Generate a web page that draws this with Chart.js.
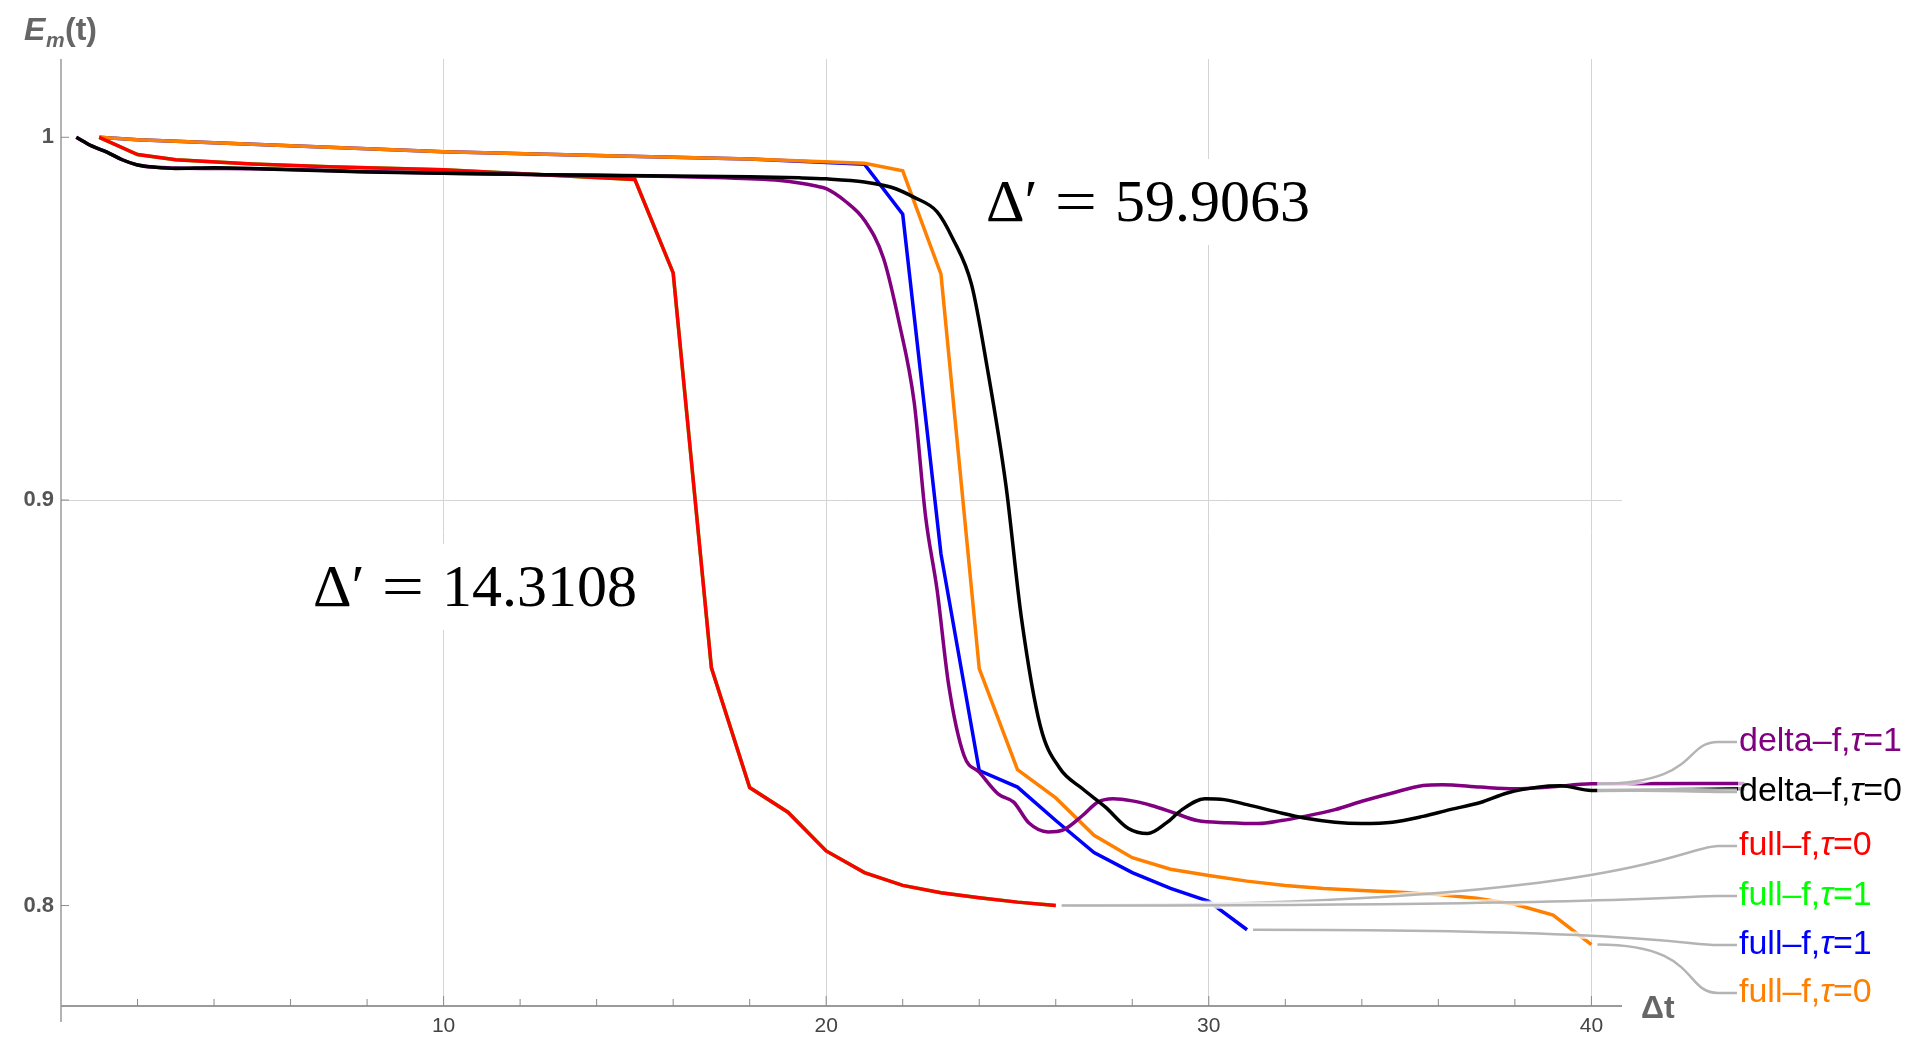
<!DOCTYPE html>
<html>
<head>
<meta charset="utf-8">
<title>E_m(t) vs Δt</title>
<script src="https://cdn.jsdelivr.net/npm/chart.js@4.4.1/dist/chart.umd.min.js"></script>
<style>
    html, body { margin: 0; padding: 0; background: #fff; overflow: hidden; }
    canvas { display: block; }
</style>
</head>
<body>
<canvas id="emChart" width="1920" height="1040"></canvas>
<script>
// values (log y axis)
const deltaTau1X = [0.4, 0.8, 1.2, 1.6, 2, 3, 5, 8, 10, 14, 16, 17, 18, 18.8, 19.3, 19.7, 20, 20.5, 21, 21.5, 21.9, 22.3, 22.6, 22.9, 23.2, 23.6, 24, 24.5, 24.9, 25.3, 25.8, 26.2, 26.7, 27.1, 27.5, 28, 28.5, 29.1, 29.7, 30.5, 31.3, 31.9, 32.5, 33.3, 34, 34.8, 35.6, 36.1, 37.1, 38, 38.9, 40, 44, 49];
const deltaTau1Y = [1.000, 0.9975, 0.9957, 0.9935, 0.9920, 0.9911, 0.9909, 0.9901, 0.9896, 0.9890, 0.9887, 0.9884, 0.9880, 0.9875, 0.9868, 0.9860, 0.9852, 0.9816, 0.9762, 0.9654, 0.9479, 0.9259, 0.8955, 0.8767, 0.8530, 0.8357, 0.8316, 0.8263, 0.8244, 0.8194, 0.8173, 0.8178, 0.8212, 0.8244, 0.8252, 0.8247, 0.8236, 0.8218, 0.8200, 0.8195, 0.8193, 0.8200, 0.8210, 0.8226, 0.8246, 0.8266, 0.8284, 0.8286, 0.8280, 0.8276, 0.8280, 0.8288, 0.8289, 0.8298];

const deltaTau0X = [0.4, 0.8, 1.2, 1.6, 2, 2.5, 3, 4, 5, 6, 8, 10, 12, 14, 16, 18, 19.3, 20, 21, 21.7, 22.3, 22.9, 23.3, 23.8, 24.2, 24.7, 25.1, 25.6, 26.1, 26.7, 27.3, 27.9, 28.4, 28.9, 29.3, 29.9, 30.4, 31, 31.8, 32.5, 33.3, 34, 34.8, 35.6, 36.3, 37.1, 37.8, 38.6, 39.2, 40, 44, 49];
const deltaTau0Y = [1.000, 0.9975, 0.9957, 0.9935, 0.9920, 0.9913, 0.9910, 0.9912, 0.9910, 0.9906, 0.9900, 0.9896, 0.9893, 0.9890, 0.9888, 0.9886, 0.9883, 0.9880, 0.9871, 0.9856, 0.9827, 0.9786, 0.9712, 0.9581, 0.9358, 0.9037, 0.8699, 0.8427, 0.8326, 0.8276, 0.8232, 0.8181, 0.8169, 0.8195, 0.8226, 0.8252, 0.8250, 0.8238, 0.8220, 0.8206, 0.8196, 0.8193, 0.8196, 0.8210, 0.8226, 0.8243, 0.8266, 0.8280, 0.8283, 0.8272, 0.8276, 0.8278];

const fullTau0aX = [1, 2, 3, 5, 7, 10, 15, 16, 17, 18, 19, 20, 21, 22, 23, 24, 25, 26];
const fullTau0aY = [1.000, 0.9950, 0.9935, 0.9923, 0.9915, 0.9906, 0.9878, 0.9614, 0.8572, 0.8279, 0.8220, 0.8128, 0.8077, 0.8047, 0.8030, 0.8018, 0.8008, 0.8000];

// green run sits exactly under the red one
const fullTau1aX = [1, 2, 3, 5, 7, 10, 15, 16, 17, 18, 19, 20, 21, 22, 23, 24, 25, 26];
const fullTau1aY = [1.000, 0.9950, 0.9935, 0.9923, 0.9915, 0.9906, 0.9878, 0.9614, 0.8572, 0.8279, 0.8220, 0.8128, 0.8077, 0.8047, 0.8030, 0.8018, 0.8008, 0.8000];

const fullTau1bX = [1, 2, 5, 10, 14, 18, 21, 22, 23, 24, 25, 26, 27, 28, 29, 30, 31];
const fullTau1bY = [1.000, 0.9993, 0.9980, 0.9958, 0.9947, 0.9937, 0.9922, 0.9779, 0.8860, 0.8320, 0.8280, 0.8200, 0.8124, 0.8077, 0.8040, 0.8010, 0.7944];

const fullTau0bX = [1, 2, 5, 10, 14, 18, 21, 22, 23, 24, 25, 26, 27, 28, 29, 30, 31, 32, 33, 34, 35, 36, 37, 38, 39, 40];
const fullTau0bY = [1.000, 0.9993, 0.9980, 0.9958, 0.9947, 0.9937, 0.9925, 0.9903, 0.9610, 0.8570, 0.8322, 0.8254, 0.8165, 0.8112, 0.8085, 0.8070, 0.8057, 0.8047, 0.8040, 0.8035, 0.8031, 0.8026, 0.8017, 0.8003, 0.7978, 0.7910];

const seriesNames = ['delta–f,τ=1', 'delta–f,τ=0', 'full–f,τ=0', 'full–f,τ=1', 'full–f,τ=1', 'full–f,τ=0'];
const seriesColors = ['#800080', '#000000', '#ff0000', '#00ff00', '#0000ff', '#ff8000'];
const calloutX = [40, 40, 26, 26, 31, 40];

const xTickValues = [10, 20, 30, 40];
const yTickValues = [0.8, 0.9, 1];
const deltaPrimeValues = ['59.9063', '14.3108'];

const seriesX = [deltaTau1X, deltaTau0X, fullTau0aX, fullTau1aX, fullTau1bX, fullTau0bX];
const seriesY = [deltaTau1Y, deltaTau0Y, fullTau0aY, fullTau1aY, fullTau1bY, fullTau0bY];

const SANS = "'Liberation Sans', Arial, sans-serif";
const SERIF = "'Liberation Serif', 'Times New Roman', serif";

// layout of the callouts on the right and the two annotations
const calloutLabelY = [742, 792, 846, 896, 945, 993];
const drawOrder = [1, 0, 2, 5, 4, 3];
const smoothSeries = [true, true, false, false, false, false];
const annotationPos = [{ x: 986, y: 221 }, { x: 313, y: 606 }];

function strokeLine(ctx, x1, y1, x2, y2) {
    ctx.beginPath();
    ctx.moveTo(x1, y1);
    ctx.lineTo(x2, y2);
    ctx.stroke();
}

function drawLeader(ctx, sx, sy, ly) {
    const ex = 1718;
    const path = () => {
        ctx.beginPath();
        ctx.moveTo(sx, sy);
        ctx.bezierCurveTo(sx + (ex - sx) * 0.85, sy, ex - 35, ly, ex, ly);
        ctx.lineTo(1737, ly);
    };
    ctx.strokeStyle = 'rgba(255,255,255,0.7)';
    ctx.lineWidth = 7;
    path();
    ctx.stroke();
    ctx.strokeStyle = '#b4b4b4';
    ctx.lineWidth = 2.5;
    path();
    ctx.stroke();
}

function drawCalloutLabel(ctx, text, x, y, color) {
    const [head, tail] = text.split('τ');
    ctx.font = `34px ${SANS}`;
    const w1 = ctx.measureText(head).width;
    const w3 = ctx.measureText(tail).width;
    ctx.font = `italic 34px ${SANS}`;
    const w2 = ctx.measureText('τ').width;

    ctx.fillStyle = 'rgba(255,255,255,0.65)';
    ctx.fillRect(x - 1, y - 19, w1 + w2 + w3 + 2, 38);

    ctx.fillStyle = color;
    ctx.textBaseline = 'middle';
    ctx.textAlign = 'left';
    ctx.font = `34px ${SANS}`;
    ctx.fillText(head, x, y);
    ctx.font = `italic 34px ${SANS}`;
    ctx.fillText('τ', x + w1, y);
    ctx.font = `34px ${SANS}`;
    ctx.fillText(tail, x + w1 + w2, y);
}

function drawDeltaPrime(ctx, x0, baseline, value) {
    ctx.fillStyle = '#fff';
    ctx.fillRect(x0 - 6, baseline - 62, 340, 86);
    ctx.fillStyle = '#000';
    ctx.textBaseline = 'alphabetic';
    ctx.textAlign = 'left';
    ctx.font = `60px ${SERIF}`;
    ctx.fillText('Δ′', x0, baseline);
    ctx.save();
    ctx.translate(x0 + 90, baseline);
    ctx.scale(1.25, 1);
    ctx.textAlign = 'center';
    ctx.fillText('=', 0, 0);
    ctx.restore();
    ctx.fillText(value, x0 + 129, baseline);
}

const mathematicaStyle = {
    id: 'mathematicaStyle',
    beforeDatasetsDraw(chart) {
        const { ctx, chartArea: area, scales: { x: xScale, y: yScale } } = chart;
        ctx.save();
        ctx.strokeStyle = '#9a9a9a';
        ctx.lineWidth = 2;
        strokeLine(ctx, area.left, area.bottom, area.right, area.bottom);
        ctx.lineWidth = 1.5;
        strokeLine(ctx, area.left, area.top, area.left, area.bottom + 16);

        ctx.strokeStyle = '#8a8a8a';
        ctx.lineWidth = 1;
        for (let v = 2; v <= 40; v += 2) {
            const px = xScale.getPixelForValue(v);
            strokeLine(ctx, px, area.bottom, px, area.bottom - (v % 10 === 0 ? 10 : 7));
        }
        yTickValues.forEach(v => {
            const py = yScale.getPixelForValue(v);
            strokeLine(ctx, area.left, py, area.left + 8, py);
        });
        ctx.restore();
    },
    afterDatasetsDraw(chart) {
        const { ctx, scales: { x: xScale, y: yScale } } = chart;
        ctx.save();
        seriesX.forEach((xs, i) => {
            const k = xs.indexOf(calloutX[i]);
            const sx = xScale.getPixelForValue(xs[k]) + 6;
            const sy = yScale.getPixelForValue(seriesY[i][k]);
            drawLeader(ctx, sx, sy, calloutLabelY[i]);
        });
        seriesNames.forEach((name, i) => {
            drawCalloutLabel(ctx, name, 1739, calloutLabelY[i], seriesColors[i]);
        });
        ctx.restore();
    },
    afterDraw(chart) {
        const ctx = chart.ctx;
        ctx.save();
        deltaPrimeValues.forEach((v, i) => drawDeltaPrime(ctx, annotationPos[i].x, annotationPos[i].y, v));

        // axis labels
        ctx.fillStyle = '#666';
        ctx.textBaseline = 'alphabetic';
        ctx.textAlign = 'left';
        ctx.font = `italic bold 32px ${SANS}`;
        ctx.fillText('E', 24, 40);
        ctx.font = `italic bold 21px ${SANS}`;
        ctx.fillText('m', 46, 47);
        ctx.font = `bold 32px ${SANS}`;
        ctx.fillText('(t)', 65, 40);
        ctx.fillText('Δt', 1641, 1018);
        ctx.restore();
    }
};

const datasets = seriesNames.map((name, i) => ({
    label: name,
    data: seriesX[i].map((x, k) => ({ x, y: seriesY[i][k] })),
    borderColor: seriesColors[i],
    backgroundColor: seriesColors[i],
    borderWidth: 3.5,
    pointRadius: 0,
    fill: false,
    order: drawOrder[i],
    cubicInterpolationMode: smoothSeries[i] ? 'monotone' : 'default',
    tension: 0,
    clip: smoothSeries[i] ? false : undefined
}));

new Chart(document.getElementById('emChart'), {
    type: 'line',
    data: { datasets },
    options: {
        responsive: false,
        animation: false,
        devicePixelRatio: 1,
        layout: { padding: { top: 59, right: 298, bottom: 0, left: 0 } },
        plugins: {
            legend: { display: false },
            tooltip: { enabled: false }
        },
        scales: {
            x: {
                type: 'linear',
                min: 0,
                max: 40.8,
                afterBuildTicks: scale => { scale.ticks = xTickValues.map(value => ({ value })); },
                afterFit: scale => { scale.height = 34; },
                grid: { color: '#d4d4d4', lineWidth: 1, drawTicks: false },
                border: { display: false },
                ticks: {
                    padding: 8,
                    color: '#444',
                    font: { family: SANS, size: 21 },
                    maxRotation: 0,
                    autoSkip: false
                }
            },
            y: {
                type: 'logarithmic',
                min: 0.777,
                max: 1.023,
                afterBuildTicks: scale => { scale.ticks = yTickValues.map(value => ({ value })); },
                afterFit: scale => { scale.width = 61; },
                grid: {
                    color: c => (c.tick && c.tick.value === 0.9 ? '#d4d4d4' : 'rgba(0,0,0,0)'),
                    lineWidth: 1,
                    drawTicks: false
                },
                border: { display: false },
                ticks: {
                    padding: 7,
                    color: '#555',
                    font: { family: SANS, size: 22, weight: 'bold' },
                    callback: v => String(v)
                }
            }
        }
    },
    plugins: [mathematicaStyle]
});
</script>
</body>
</html>
